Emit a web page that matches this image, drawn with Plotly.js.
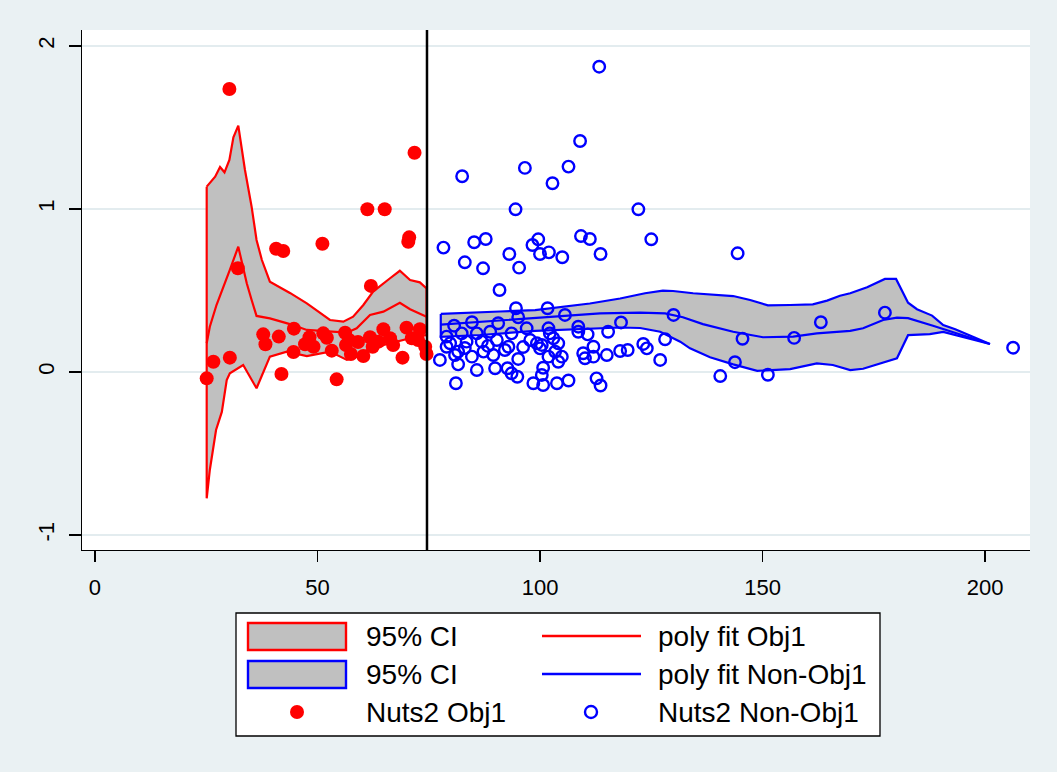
<!DOCTYPE html>
<html>
<head>
<meta charset="utf-8">
<script src="https://cdn.plot.ly/plotly-3.0.1.min.js"></script>
<style>
  html, body { margin: 0; padding: 0; background: #EAF1F3; }
  #chart { width: 1057px; height: 772px; }
</style>
</head>
<body>
<div id="chart"></div>
<script>
// Axis ticks
const xTickVals = [0, 50, 100, 150, 200];
const yTickVals = [-1, 0, 1, 2];
const cutoffX = 74.6;

// Objective 1 regions: 95% CI band and polynomial fit
const redUpperX = [25.1, 27.0, 28.1, 29.1, 30.2, 31.1, 32.2, 33.7, 35.2, 36.3, 37.5, 39.3, 43.8, 47.6, 50.2, 52.8, 55.8, 58.0, 60.3, 62.5, 66.3, 68.5, 70.8, 73.0, 74.5];
const redUpperY = [1.137, 1.198, 1.258, 1.225, 1.301, 1.440, 1.511, 1.239, 1.013, 0.810, 0.687, 0.554, 0.485, 0.421, 0.370, 0.319, 0.309, 0.339, 0.411, 0.493, 0.575, 0.621, 0.564, 0.550, 0.513];
const redLowerX = [25.1, 25.8, 27.2, 28.5, 29.6, 30.3, 33.3, 36.3, 39.3, 43.1, 47.6, 52.8, 56.6, 58.8, 61.8, 66.3, 70.8, 74.5];
const redLowerY = [-0.775, -0.601, -0.356, -0.245, -0.049, -0.008, 0.043, -0.100, 0.094, 0.125, 0.098, 0.125, 0.074, 0.094, 0.145, 0.176, 0.207, 0.227];
const redFitX = [25.1, 25.8, 27.3, 28.8, 30.3, 32.2, 34.1, 35.2, 36.3, 39.3, 43.8, 47.6, 52.8, 56.6, 58.8, 61.8, 64.8, 68.5, 70.8, 74.5];
const redFitY = [0.176, 0.278, 0.411, 0.513, 0.626, 0.769, 0.544, 0.442, 0.344, 0.329, 0.294, 0.258, 0.247, 0.241, 0.268, 0.350, 0.370, 0.425, 0.385, 0.339];

// Non-objective 1 regions: 95% CI band and polynomial fit
const blueUpperX = [77.7, 84.3, 91.0, 98.9, 104.5, 111.2, 118.0, 123.6, 127.6, 129.9, 134.4, 143.4, 147.2, 151.2, 156.2, 161.3, 164.5, 167.4, 169.7, 173.5, 177.5, 180.0, 182.7, 184.7, 188.1, 190.6, 193.3, 201.1];
const blueUpperY = [0.356, 0.365, 0.371, 0.380, 0.399, 0.420, 0.451, 0.483, 0.499, 0.497, 0.483, 0.466, 0.442, 0.409, 0.411, 0.415, 0.438, 0.468, 0.483, 0.520, 0.571, 0.571, 0.425, 0.385, 0.346, 0.288, 0.262, 0.172];
const blueLowerX = [77.7, 86.5, 98.9, 109.0, 118.0, 122.5, 127.0, 131.5, 133.7, 138.2, 143.4, 148.8, 156.2, 162.2, 165.8, 169.7, 172.6, 180.2, 182.7, 187.6, 190.6, 201.1];
const blueLowerY = [0.215, 0.227, 0.252, 0.264, 0.273, 0.270, 0.247, 0.186, 0.145, 0.090, 0.047, 0.007, 0.018, 0.053, 0.043, 0.012, 0.020, 0.084, 0.226, 0.232, 0.246, 0.172];
const blueFitX = [77.7, 86.5, 98.9, 106.7, 113.5, 122.5, 128.1, 132.1, 136.6, 143.4, 150.1, 156.9, 162.2, 169.7, 172.6, 177.1, 180.2, 182.7, 188.3, 201.1];
const blueFitY = [0.291, 0.307, 0.328, 0.344, 0.359, 0.364, 0.360, 0.336, 0.294, 0.247, 0.213, 0.217, 0.237, 0.252, 0.268, 0.319, 0.333, 0.330, 0.284, 0.172];

// NUTS2 regions, Objective 1
const obj1X = [25.1, 26.6, 30.2, 30.3, 32.1, 37.8, 38.3, 40.7, 42.3, 41.3, 41.9, 44.7, 44.6, 47.2, 48.2, 49.1, 51.1, 51.3, 52.1, 53.2, 54.3, 56.2, 56.4, 57.5, 60.3, 61.2, 65.1, 61.8, 62.0, 62.4, 63.7, 64.8, 66.3, 67.0, 69.1, 70.0, 71.2, 71.8, 70.6, 70.4, 73.0, 74.2, 74.5, 57.1, 59.1, 72.6];
const obj1Y = [-0.039, 0.063, 1.736, 0.088, 0.636, 0.231, 0.170, 0.756, 0.742, 0.217, -0.012, 0.266, 0.123, 0.170, 0.213, 0.155, 0.787, 0.237, 0.210, 0.131, -0.045, 0.241, 0.166, 0.110, 0.098, 0.998, 0.998, 0.213, 0.528, 0.155, 0.186, 0.262, 0.207, 0.166, 0.088, 0.272, 0.207, 1.345, 0.826, 0.799, 0.262, 0.155, 0.110, 0.196, 0.184, 0.196];

// NUTS2 regions, non-Objective 1
const nonObj1X = [
  113.3, 109.0, 82.5, 96.6, 106.4, 102.8, 94.5, 122.1, 78.3, 85.2, 87.8, 83.1, 87.2, 93.1, 95.3, 98.3, 99.6, 100.0, 102.0, 105.0, 109.2, 111.2, 113.6, 125.0, 90.9,
  130.0, 128.1, 127.0, 144.4, 140.5, 143.8, 145.5, 151.2, 157.1, 163.1, 177.5, 206.3,
  101.7, 105.6, 108.6, 108.6, 110.7, 115.3, 118.2, 101.9, 102.2, 103.0, 104.1, 100.4, 100.0, 101.9, 103.4, 104.1, 104.9, 109.7, 110.1, 112.0, 112.0, 115.0, 118.0, 119.7, 123.2, 124.0, 100.7, 100.4, 100.7, 103.8, 106.4, 112.7, 113.6, 99.3, 97.8,
  94.6, 95.1, 80.7, 84.7, 90.6, 97.0, 79.0, 82.4, 85.8, 88.8, 93.6, 79.8, 83.5, 86.9, 90.3, 81.6, 87.3, 92.1, 92.9, 77.5, 80.9, 84.7, 89.5, 81.6, 95.1, 85.8, 89.9, 92.7, 93.6, 94.9, 81.1, 98.5, 79.0, 88.3, 96.2, 83.1
];
const nonObj1Y = [
  1.873, 1.417, 1.201, 1.252, 1.260, 1.158, 0.998, 0.998, 0.763, 0.796, 0.816, 0.673, 0.636, 0.724, 0.640, 0.779, 0.814, 0.724, 0.734, 0.704, 0.834, 0.816, 0.724, 0.814, 0.503,
  0.350, 0.201, 0.074, 0.728, -0.025, 0.060, 0.204, -0.017, 0.209, 0.305, 0.364, 0.149,
  0.391, 0.350, 0.278, 0.247, 0.231, 0.247, 0.304, 0.268, 0.237, 0.207, 0.176, 0.166, 0.145, 0.094, 0.125, 0.063, 0.094, 0.115, 0.084, 0.155, 0.094, 0.104, 0.129, 0.135, 0.172, 0.145, 0.026, -0.018, -0.080, -0.069, -0.052, -0.039, -0.083, 0.176, 0.196,
  0.391, 0.336, 0.284, 0.305, 0.299, 0.268, 0.217, 0.237, 0.237, 0.247, 0.237, 0.176, 0.186, 0.186, 0.196, 0.125, 0.125, 0.135, 0.155, 0.074, 0.104, 0.094, 0.104, 0.047, 0.080, 0.012, 0.023, 0.023, -0.008, -0.029, -0.069, -0.069, 0.155, 0.160, 0.153, 0.147
];

const legendLabels = ['95% CI', 'poly fit Obj1', '95% CI', 'poly fit Non-Obj1', 'Nuts2 Obj1', 'Nuts2 Non-Obj1'];

const RED = '#FF0000';
const BLUE = '#0000FF';
const BAND = '#C0C0C0';
const FONT = 'Liberation Sans, Arial, sans-serif';

// Closed polygon: upper edge left-to-right, lower edge back right-to-left
function band(ux, uy, lx, ly, color) {
  const x = ux.concat(lx.slice().reverse(), [ux[0]]);
  const y = uy.concat(ly.slice().reverse(), [uy[0]]);
  return {
    x: x, y: y, type: 'scatter', mode: 'lines', fill: 'toself',
    fillcolor: BAND, line: { color: color, width: 2.2 }, hoverinfo: 'skip'
  };
}

const traces = [
  band(redUpperX, redUpperY, redLowerX, redLowerY, RED),
  { x: redFitX, y: redFitY, type: 'scatter', mode: 'lines', line: { color: RED, width: 2.2 } },
  band(blueUpperX, blueUpperY, blueLowerX, blueLowerY, BLUE),
  { x: blueFitX, y: blueFitY, type: 'scatter', mode: 'lines', line: { color: BLUE, width: 2.2 } },
  { x: obj1X, y: obj1Y, type: 'scatter', mode: 'markers',
    marker: { symbol: 'circle', size: 14, color: RED, line: { width: 0 } } },
  { x: nonObj1X, y: nonObj1Y, type: 'scatter', mode: 'markers',
    marker: { symbol: 'circle-open', size: 11.5, color: BLUE, line: { width: 2.4, color: BLUE } } }
];

// Plot-area geometry (pixels) used to place the legend box below the axes
const W = 1057, H = 772;
const M = { l: 82, r: 27, t: 30, b: 222 };
const plotW = W - M.l - M.r, plotH = H - M.t - M.b;
const px = v => (v - M.l) / plotW;
const py = v => (H - M.b - v) / plotH;

const shapes = [
  { type: 'line', xref: 'x', yref: 'paper', x0: cutoffX, x1: cutoffX, y0: 0, y1: 1,
    line: { color: '#000000', width: 2.5 } },
  // legend frame
  { type: 'rect', xref: 'paper', yref: 'paper', x0: px(236), x1: px(880), y0: py(613), y1: py(736),
    fillcolor: '#FFFFFF', line: { color: '#000000', width: 1.3 } },
  { type: 'rect', xref: 'paper', yref: 'paper', x0: px(248), x1: px(346), y0: py(623), y1: py(650),
    fillcolor: BAND, line: { color: RED, width: 2.4 } },
  { type: 'rect', xref: 'paper', yref: 'paper', x0: px(248), x1: px(346), y0: py(661), y1: py(688),
    fillcolor: BAND, line: { color: BLUE, width: 2.4 } },
  { type: 'line', xref: 'paper', yref: 'paper', x0: px(542), x1: px(641), y0: py(636), y1: py(636),
    line: { color: RED, width: 2.4 } },
  { type: 'line', xref: 'paper', yref: 'paper', x0: px(542), x1: px(641), y0: py(674), y1: py(674),
    line: { color: BLUE, width: 2.4 } },
  { type: 'circle', xref: 'paper', yref: 'paper', x0: px(290), x1: px(304), y0: py(705), y1: py(719),
    fillcolor: RED, line: { color: RED, width: 0 } },
  { type: 'circle', xref: 'paper', yref: 'paper', x0: px(585), x1: px(597), y0: py(706), y1: py(718),
    fillcolor: 'rgba(0,0,0,0)', line: { color: BLUE, width: 2.4 } }
];

const legendPos = [[364, 636], [656, 636], [364, 674], [656, 674], [364, 712], [656, 712]];
const annotations = legendLabels.map((t, i) => ({
  text: t, xref: 'paper', yref: 'paper', x: px(legendPos[i][0]), y: py(legendPos[i][1]),
  xanchor: 'left', yanchor: 'middle', showarrow: false,
  font: { family: FONT, size: 28, color: '#000000' }
}));

const layout = {
  width: W, height: H,
  margin: M,
  paper_bgcolor: '#EAF1F3',
  plot_bgcolor: '#FFFFFF',
  showlegend: false,
  font: { family: FONT, color: '#000000' },
  xaxis: {
    range: [-2.92, 210.1], tickvals: xTickVals, ticktext: xTickVals.map(String),
    showgrid: false, zeroline: false, showline: true, linecolor: '#000000', linewidth: 1.3,
    ticks: 'outside', ticklen: 11, tickwidth: 1.3, tickcolor: '#000000',
    ticklabelstandoff: 6,
    tickfont: { family: FONT, size: 22, color: '#000000' }
  },
  yaxis: {
    range: [-1.092, 2.098], tickvals: yTickVals, ticktext: yTickVals.map(String),
    showgrid: true, gridcolor: '#E3ECEF', gridwidth: 2,
    zeroline: false, showline: true, linecolor: '#000000', linewidth: 1.3,
    ticks: 'outside', ticklen: 12, tickwidth: 1.3, tickcolor: '#000000',
    tickangle: -90, ticklabelstandoff: 6,
    tickfont: { family: FONT, size: 22, color: '#000000' }
  },
  shapes: shapes,
  annotations: annotations
};

Plotly.newPlot('chart', traces, layout, { displayModeBar: false, staticPlot: true });
</script>
</body>
</html>
